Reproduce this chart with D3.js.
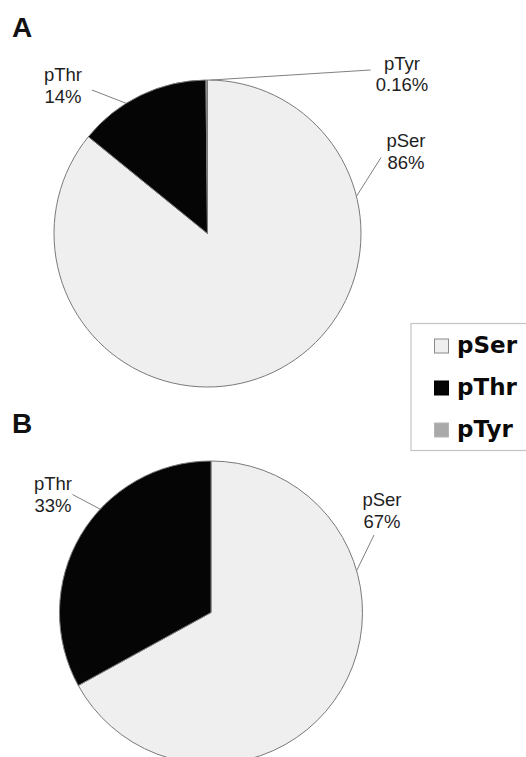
<!DOCTYPE html>
<html>
<head>
<meta charset="utf-8">
<script src="https://cdn.jsdelivr.net/npm/d3@7"></script>
<style>
  html, body { margin: 0; padding: 0; background: #fff; }
  svg { display: block; }
</style>
</head>
<body>
<svg id="chart" width="526" height="757"></svg>
<script>
// ---- data ----
const categories = ["pSer", "pThr", "pTyr"];
const valuesA = [86, 14, 0.16];
const valuesB = [67, 33, 0];
const percentLabelsA = ["86%", "14%", "0.16%"];
const percentLabelsB = ["67%", "33%", null];
const panelNames = ["A", "B"];

// ---- styling / layout ----
const colors = d3.scaleOrdinal().domain(categories).range(["#efefef", "#050505", "#a9a9a9"]);
const panels = [
  { name: panelNames[0], values: valuesA, labels: percentLabelsA, cx: 207.5, cy: 233.5, r: 153.5, letter: [12, 37],
    place: [ { x: 406, y: 147, lx: 381, ly: 157.5, ang: 76 },
             { x: 63,  y: 81,  lx: 92,  ly: 90,    ang: 328 },
             { x: 402, y: 69.5, lx: 370.5, ly: 70, ang: 1.2 } ] },
  { name: panelNames[1], values: valuesB, labels: percentLabelsB, cx: 211, cy: 612.5, r: 151.5, letter: [12, 433],
    place: [ { x: 382, y: 506, lx: 374, ly: 535, ang: 74 },
             { x: 53,  y: 490, lx: 72.5, ly: 494.5, ang: 313 },
             null ] }
];

const svg = d3.select("#chart");
const pie = d3.pie().sort(null).value(d => d.v);

panels.forEach(p => {
  const data = categories.map((c, i) => ({ c, v: p.values[i], label: p.labels[i], place: p.place[i] }));
  const arcs = pie(data);
  const arc = d3.arc().innerRadius(0).outerRadius(p.r);
  const g = svg.append("g").attr("transform", `translate(${p.cx},${p.cy})`);

  g.selectAll("path.slice").data(arcs.filter(a => a.data.v > 0)).join("path")
    .attr("class", "slice")
    .attr("d", arc)
    .attr("fill", d => colors(d.data.c))
    .attr("stroke", "#7a7a7a")
    .attr("stroke-width", 1);

  // leader lines + labels
  arcs.forEach(a => {
    const pl = a.data.place;
    if (!pl || a.data.label == null) return;
    const t = pl.ang * Math.PI / 180;
    const ex = p.cx + p.r * Math.sin(t), ey = p.cy - p.r * Math.cos(t);
    svg.append("path")
      .attr("d", d3.line()([[pl.lx, pl.ly], [ex, ey]]))
      .attr("stroke", "#808080").attr("stroke-width", 1).attr("fill", "none");
    const txt = svg.append("text")
      .attr("x", pl.x).attr("y", pl.y)
      .attr("text-anchor", "middle")
      .attr("font-family", "'Liberation Sans', Arial, sans-serif")
      .attr("font-size", 18.5)
      .attr("fill", "#1e1e1e");
    txt.append("tspan").attr("x", pl.x).attr("dy", 0).text(a.data.c);
    txt.append("tspan").attr("x", pl.x).attr("dy", 21.5).text(a.data.label);
  });

  svg.append("text")
    .attr("x", p.letter[0]).attr("y", p.letter[1])
    .attr("font-family", "'Liberation Sans', Arial, sans-serif")
    .attr("font-weight", "bold").attr("font-size", 28)
    .attr("fill", "#111")
    .text(p.name);
});

// ---- legend ----
const legend = svg.append("g");
legend.append("rect")
  .attr("x", 411).attr("y", 323.5).attr("width", 140).attr("height", 127)
  .attr("fill", "#fff").attr("stroke", "#c4c4c4").attr("stroke-width", 1.2);
const rowY = d3.scalePoint().domain(categories).range([353, 437]);
categories.forEach(c => {
  const y = rowY(c);
  legend.append("rect")
    .attr("x", 434.5).attr("y", y - 14).attr("width", 14).attr("height", 14)
    .attr("fill", colors(c))
    .attr("stroke", c === "pThr" ? "#000" : (c === "pSer" ? "#8a8a8a" : "#b5b5b5"))
    .attr("stroke-width", 1);
  legend.append("text")
    .attr("x", 457).attr("y", y)
    .attr("font-family", "'DejaVu Sans', Verdana, sans-serif")
    .attr("font-weight", "bold").attr("font-size", 23)
    .attr("fill", "#0a0a0a")
    .text(c);
});
</script>
</body>
</html>
